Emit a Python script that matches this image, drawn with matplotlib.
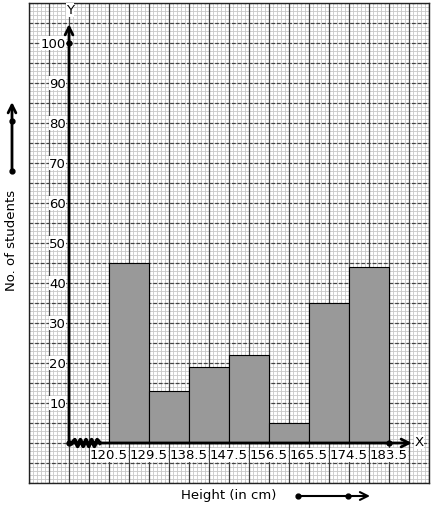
import numpy as np
import matplotlib.pyplot as plt

# class boundaries and frequencies
edges = [120.5, 129.5, 138.5, 147.5, 156.5, 165.5, 174.5, 183.5]
freqs = [45, 13, 19, 22, 5, 35, 44]
yticks = [10, 20, 30, 40, 50, 60, 70, 80, 90, 100]

W, H = 434, 510
fig = plt.figure(figsize=(W / 100, H / 100), dpi=100)
# graph paper region in pixels: x 29..429, y 4..484
ax = fig.add_axes([29 / W, (H - 484) / H, 400 / W, 480 / H])

x0, x1 = 102.5, 192.5
y0, y1 = -10, 110
ax.set_xlim(x0, x1)
ax.set_ylim(y0, y1)

def px(x, y):
    # pixel position -> data coords (for decorations outside the plot)
    return x0 + (x - 29) * 0.225, (444 - y) / 4.0

# graph paper
for v in np.arange(x0, x1 + 0.01, 0.9):
    ax.axvline(v, color='#c8c8c8', lw=0.6, zorder=0)
for v in np.arange(y0, y1 + 0.01, 1):
    ax.axhline(v, color='#c8c8c8', lw=0.6, zorder=0)
for v in np.arange(x0, x1 + 0.01, 4.5):
    ax.axvline(v, color='#444444', lw=0.9, zorder=1)
for v in np.arange(y0, y1 + 0.01, 5):
    ax.axhline(v, color='#444444', lw=0.9, ls=(0, (3, 1.5)), zorder=1)

ax.set_xticks([])
ax.set_yticks([])
for s in ax.spines.values():
    s.set_color('#222222')
    s.set_linewidth(1.0)

# histogram bars
ax.bar(edges[:-1], freqs, width=np.diff(edges), align='edge',
       color='#999999', edgecolor='black', lw=0.8, zorder=3)

ox = 111.5
# axes with arrows
ax.annotate('', xy=(px(412, 0)[0], 0), xytext=(ox, 0),
            arrowprops=dict(arrowstyle='->', lw=2, color='black',
                            mutation_scale=14, shrinkA=0, shrinkB=0), zorder=5)
ax.annotate('', xy=(ox, px(0, 25)[1]), xytext=(ox, 0),
            arrowprops=dict(arrowstyle='->', lw=2, color='black',
                            mutation_scale=14, shrinkA=0, shrinkB=0), zorder=5)
ax.plot([ox, ox, edges[-1]], [0, 100, 0], 'o', color='black', ms=3.5, zorder=6)

# zigzag break on x axis
zx = np.linspace(px(72, 0)[0], px(100, 0)[0], 11)
zy = np.array([0, 1, -1, 1, -1, 1, -1, 1, -1, 1, 0]) * 0.8
ax.plot(zx, zy, color='black', lw=2.8, zorder=6)

# tick labels
bb = dict(facecolor='white', edgecolor='none', pad=0.3)
for t in yticks:
    ax.text(px(66, 0)[0], t, str(t), ha='right', va='center', fontsize=9.5,
            bbox=bb, zorder=4)
for e in edges:
    ax.text(e, px(0, 456)[1], str(e), ha='center', va='center', fontsize=9.5,
            bbox=bb, zorder=4)
ax.text(*px(70, 11), 'Y', ha='center', va='center', fontsize=9.5, bbox=bb, zorder=4)
ax.text(*px(419, 443), 'X', ha='center', va='center', fontsize=9.5, bbox=bb, zorder=4)

# axis titles with arrows outside the paper
ax.text(*px(12, 240), 'No. of students', rotation=90, ha='center', va='center',
        fontsize=9.5, clip_on=False)
ax.text(*px(229, 496), 'Height (in cm)', ha='center', va='center',
        fontsize=9.5, clip_on=False)

ax.annotate('', xy=px(12, 103), xytext=px(12, 172),
            arrowprops=dict(arrowstyle='->', lw=2, color='black',
                            mutation_scale=14, shrinkA=0, shrinkB=0),
            annotation_clip=False)
ax.annotate('', xy=px(370, 497), xytext=px(298, 497),
            arrowprops=dict(arrowstyle='->', lw=1.5, color='black',
                            mutation_scale=14, shrinkA=0, shrinkB=0),
            annotation_clip=False)
dx, dy = zip(px(12, 172), px(12, 122), px(298, 497), px(348, 497))
ax.plot(dx, dy, 'o', color='black', ms=3.5, clip_on=False)

fig.savefig('out.png', dpi=100, facecolor='white')
